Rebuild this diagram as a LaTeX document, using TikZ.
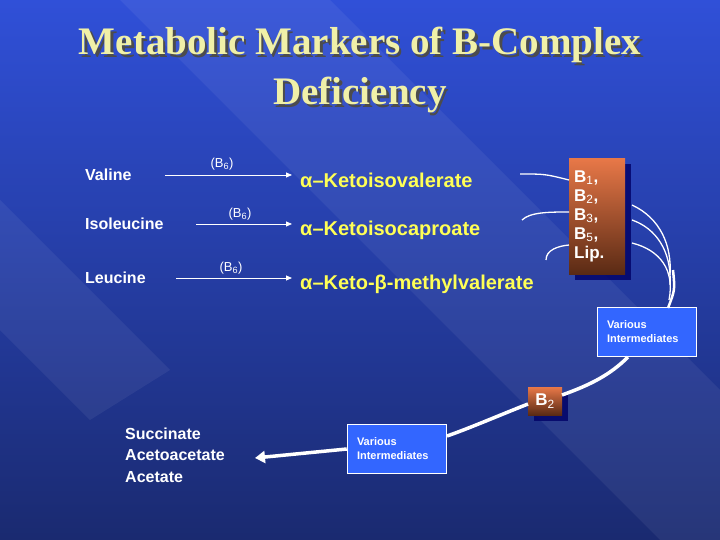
\documentclass[tikz,border=0pt]{standalone}
\usepackage{fontspec}
\setmainfont{Liberation Sans}
\newfontfamily\titlefont{Liberation Serif}
\usetikzlibrary{arrows.meta,shadows}
\definecolor{bgtop}{HTML}{3050D8}
\definecolor{bgbot}{HTML}{1A2A70}
\definecolor{ylw}{HTML}{FFFF55}
\definecolor{ttl}{HTML}{F0F0A8}
\definecolor{org}{HTML}{E87848}
\definecolor{brn}{HTML}{5A2A14}
\definecolor{vib}{HTML}{3366FF}
\newcommand{\sbs}[1]{\textsubscript{\mdseries #1}}
\tikzset{
 aa/.style={text=white,font=\bfseries\fontsize{16}{18}\selectfont,anchor=west,inner sep=0},
 prod/.style={text=ylw,font=\bfseries\fontsize{20}{22}\selectfont,anchor=west,inner sep=0},
 bsix/.style={text=white,font=\fontsize{13}{14}\selectfont,inner sep=0},
 vbox/.style={draw=white,line width=1.5pt,fill=vib,text=white,font=\bfseries\fontsize{11}{14}\selectfont,align=left,minimum width=99pt,minimum height=49pt,text width=80pt},
 obox/.style={top color=org,bottom color=brn,draw=none,text=white,font=\bfseries\fontsize{17}{19}\selectfont,align=left,drop shadow={shadow xshift=6pt,shadow yshift=-6pt,fill=black!60!blue,opacity=0.8}},
 wl/.style={white,line width=1.3pt},
 wt/.style={white,line width=3.5pt},
 ttlst/.style={font=\titlefont\bfseries\fontsize{39}{50}\selectfont,align=center},
}
\begin{document}
\begin{tikzpicture}[x=1pt,y=-1pt]
\useasboundingbox (0,0) rectangle (720,540);
\shade[top color=bgtop,bottom color=bgbot] (0,0) rectangle (720,540);
\fill[white,opacity=0.06] (120,0) -- (330,0) -- (720,390) -- (720,600) -- cycle;
\fill[white,opacity=0.06] (0,330) -- (0,200) -- (170,370) -- (90,420) -- cycle;
\node[ttlst,text=black!70] at (362.5,72.5) {Metabolic Markers of B-Complex\\Deficiency};
\node[ttlst,text=ttl] (title) at (360,70) {Metabolic Markers of B-Complex\\Deficiency};
\node[aa] (val) at (85,175) {Valine};
\node[aa] (ile) at (85,224) {Isoleucine};
\node[aa] (leu) at (85,278) {Leucine};
\node[prod] (p1) at (300,180) {α–Ketoisovalerate};
\node[prod] (p2) at (300,230) {α–Ketoisocaproate};
\node[prod] (p3) at (300,284) {α–Keto-β-methylvalerate};
\coordinate (a1) at (165,175); \coordinate (b1) at (292,175);
\coordinate (a2) at (196,224); \coordinate (b2) at (292,224);
\coordinate (a3) at (176,278); \coordinate (b3) at (292,278);
\draw[white,line width=0.8pt,-{Triangle[length=6pt,width=5pt]}] (a1) -- (b1);
\draw[white,line width=0.8pt,-{Triangle[length=6pt,width=5pt]}] (a2) -- (b2);
\draw[white,line width=0.8pt,-{Triangle[length=6pt,width=5pt]}] (a3) -- (b3);
\node[bsix] (s1) at (222,164) {(B\textsubscript{6})};
\node[bsix] (s2) at (240,214) {(B\textsubscript{6})};
\node[bsix] (s3) at (231,268) {(B\textsubscript{6})};
\node[obox,minimum width=56pt,minimum height=116pt,inner sep=5pt,anchor=north west,text width=46pt] (ob) at (569,158) {B\sbs{1},\\B\sbs{2},\\B\sbs{3},\\B\sbs{5},\\Lip.};
\node[vbox] (vi1) at (647,332) {Various\\Intermediates};
\node[obox,minimum width=34pt,minimum height=28pt,inner sep=2pt] (btwo) at (545,401) {B\sbs{2}};
\node[vbox] (vi2) at (397,449) {Various\\Intermediates};
\node[aa,align=left,font=\bfseries\fontsize{16}{21.5}\selectfont] (succ) at (125,455) {Succinate\\Acetoacetate\\Acetate};
\draw[wl] (520,174) .. controls (545,174) .. (569,180);
\draw[wl] (522,220) .. controls (530,212) and (550,212) .. (569,212);
\draw[wl] (546,260) .. controls (546,250) and (558,246) .. (569,245);
\draw[wl] (632,205) .. controls (660,218) and (672,245) .. (670,275);
\draw[wl] (632,220) .. controls (655,228) and (672,250) .. (670,285);
\draw[wl] (632,243) .. controls (660,250) and (675,270) .. (669,300);
\draw[white,line width=2.5pt] (673,270) .. controls (675,290) .. (668,308);
\draw[wt] (628,357) .. controls (610,375) and (590,385) .. (562,395);
\draw[wt] (528,404) .. controls (500,415) and (470,428) .. (447,436);
\draw[wt,-{Triangle[length=10pt,width=12pt]}] (vi2.west) -- (255,458);
\end{tikzpicture}
\end{document}
